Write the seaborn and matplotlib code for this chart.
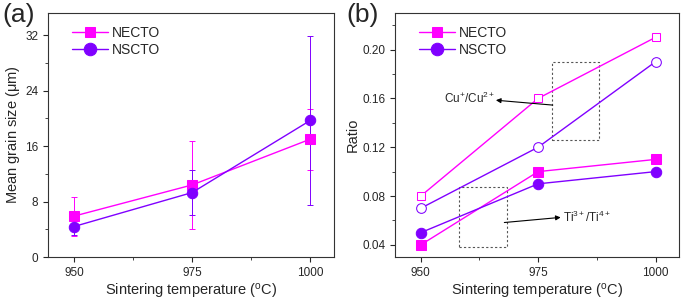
import matplotlib
matplotlib.use("Agg")
import matplotlib.pyplot as plt
import seaborn as sns
from matplotlib.ticker import MultipleLocator

# данные
temps = [950, 975, 1000]
necto_size = [5.9, 10.4, 17.0]
necto_err = [2.8, 6.4, 4.4]
nscto_size = [4.4, 9.3, 19.7]
nscto_err = [1.2, 3.3, 12.2]

necto_cu = [0.08, 0.16, 0.21]
nscto_cu = [0.07, 0.12, 0.19]
necto_ti = [0.04, 0.10, 0.11]
nscto_ti = [0.05, 0.09, 0.10]

c_necto = '#ff00ff'
c_nscto = '#8000ff'

sns.set_style("ticks")
plt.rcParams['font.family'] = ['Liberation Sans', 'DejaVu Sans']
plt.rcParams['mathtext.fontset'] = 'custom'
plt.rcParams['mathtext.rm'] = 'Liberation Sans'
plt.rcParams['mathtext.it'] = 'Liberation Sans'

fig = plt.figure(figsize=(6.85, 3.01), dpi=100)
ax1 = fig.add_axes([0.070, 0.146, 0.4175, 0.811])
ax2 = fig.add_axes([0.5766, 0.146, 0.4146, 0.811])


def style_axis(ax):
    for s in ax.spines.values():
        s.set_linewidth(0.8)
        s.set_color('#333333')
    ax.set_xlim(944.5, 1005)
    ax.set_xticks(temps)
    ax.xaxis.set_minor_locator(MultipleLocator(12.5))
    ax.tick_params(which='major', length=3.5, width=0.8, labelsize=8.5, direction='out')
    ax.tick_params(which='minor', length=2, width=0.6, direction='out')
    ax.set_xlabel('Sintering temperature ($\\mathregular{^{o}}$C)', fontsize=10.5, labelpad=2)


def add_legend(ax):
    ax.legend(loc='upper left', frameon=False, fontsize=10, handlelength=2.6,
              borderaxespad=0.3, labelspacing=0.2, handletextpad=0.3,
              markerscale=1.2, bbox_to_anchor=(0.05, 0.985))


# (a) размер зерна
ax1.errorbar(temps, necto_size, yerr=necto_err, fmt='none', ecolor=c_necto,
             elinewidth=0.7, capsize=2, capthick=0.7)
ax1.errorbar(temps, nscto_size, yerr=nscto_err, fmt='none', ecolor=c_nscto,
             elinewidth=0.7, capsize=2, capthick=0.7)
sns.lineplot(x=temps, y=necto_size, ax=ax1, color=c_necto, marker='s', markersize=6.5,
             markeredgecolor=c_necto, linewidth=1, label='NECTO')
sns.lineplot(x=temps, y=nscto_size, ax=ax1, color=c_nscto, marker='o', markersize=7.5,
             markeredgecolor=c_nscto, linewidth=1, label='NSCTO')
style_axis(ax1)
ax1.set_ylim(0, 35.2)
ax1.yaxis.set_major_locator(MultipleLocator(8))
ax1.yaxis.set_minor_locator(MultipleLocator(4))
ax1.set_ylabel('Mean grain size ($\\mathregular{\\mu}$m)', fontsize=10.5, labelpad=2)
add_legend(ax1)
fig.text(0.003, 0.95, '(a)', fontsize=19, va='center')

# (b) отношения
sns.lineplot(x=temps, y=necto_cu, ax=ax2, color=c_necto, marker='s', markersize=6,
             markeredgecolor=c_necto, markerfacecolor='white', linewidth=1)
sns.lineplot(x=temps, y=nscto_cu, ax=ax2, color=c_nscto, marker='o', markersize=7,
             markeredgecolor=c_nscto, markerfacecolor='white', linewidth=1)
sns.lineplot(x=temps, y=necto_ti, ax=ax2, color=c_necto, marker='s', markersize=6.5,
             markeredgecolor=c_necto, linewidth=1, label='NECTO')
sns.lineplot(x=temps, y=nscto_ti, ax=ax2, color=c_nscto, marker='o', markersize=7.5,
             markeredgecolor=c_nscto, linewidth=1, label='NSCTO')
style_axis(ax2)
ax2.set_ylim(0.03, 0.23)
ax2.yaxis.set_major_locator(MultipleLocator(0.04))
ax2.yaxis.set_minor_locator(MultipleLocator(0.02))
ax2.yaxis.set_major_formatter(plt.FormatStrFormatter('%.2f'))
ax2.set_ylabel('Ratio', fontsize=10.5, labelpad=2)
add_legend(ax2)
fig.text(0.505, 0.95, '(b)', fontsize=19, va='center')

# пунктирные рамки и стрелки
ax2.add_patch(plt.Rectangle((978, 0.126), 10, 0.064, fill=False, ls=(0, (2, 2)),
                            lw=0.8, ec='#555555'))
ax2.add_patch(plt.Rectangle((958.1, 0.038), 10.2, 0.0493, fill=False, ls=(0, (2, 2)),
                            lw=0.8, ec='#555555'))
arrow = dict(arrowstyle='-|>', color='black', lw=0.8, mutation_scale=7, shrinkA=0, shrinkB=0)
ax2.annotate('', xy=(966.0, 0.1585), xytext=(978.1, 0.1545), arrowprops=arrow)
ax2.text(954.9, 0.16, 'Cu$^{+}$/Cu$^{2+}$', fontsize=8.5, va='center', ha='left')
ax2.annotate('', xy=(979.8, 0.0625), xytext=(967.8, 0.0583), arrowprops=arrow)
ax2.text(980.3, 0.0625, 'Ti$^{3+}$/Ti$^{4+}$', fontsize=8.5, va='center', ha='left')

fig.savefig('out.png', dpi=100)
